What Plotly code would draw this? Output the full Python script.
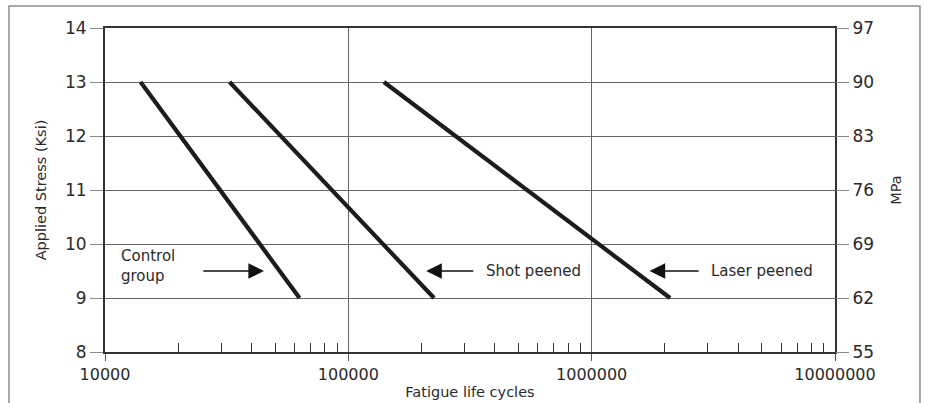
import math
import plotly.graph_objects as go

# ---- data ----
stress_ksi = [13, 9]
cycles_control = [14000, 63000]
cycles_shot = [32500, 225000]
cycles_laser = [140000, 2100000]

y_ticks_ksi = [8, 9, 10, 11, 12, 13, 14]
y_ticks_mpa = ["55", "62", "69", "76", "83", "90", "97"]
x_ticks = [10000, 100000, 1000000, 10000000]
x_tick_labels = ["10000", "100000", "1000000", "10000000"]
minor_ticks = [m * 10 ** d for d in (4, 5, 6) for m in range(2, 10)]

FONT = "DejaVu Sans"
TXT = "#2a2a2a"
LINE = "#1c1c1c"

fig = go.Figure()
for xs in (cycles_control, cycles_shot, cycles_laser):
    fig.add_trace(go.Scatter(x=xs, y=stress_ksi, mode="lines",
                             line=dict(color=LINE, width=4.2),
                             showlegend=False, hoverinfo="skip"))
# invisible helpers to materialise overlay axes
fig.add_trace(go.Scatter(x=cycles_control, y=stress_ksi, xaxis="x2", yaxis="y",
                         mode="lines", line=dict(width=0), opacity=0,
                         showlegend=False, hoverinfo="skip"))
fig.add_trace(go.Scatter(x=cycles_control, y=stress_ksi, xaxis="x", yaxis="y2",
                         mode="lines", line=dict(width=0), opacity=0,
                         showlegend=False, hoverinfo="skip"))

xr = [4, 7]
yr = [8, 14]
fig.update_layout(
    width=925, height=403,
    margin=dict(l=105, r=90, t=28, b=51),
    paper_bgcolor="white", plot_bgcolor="white",
    font=dict(family=FONT, color=TXT),
    xaxis=dict(type="log", range=xr, tickvals=x_ticks, ticktext=x_tick_labels,
               ticks="outside", ticklen=7, tickcolor="#555", tickwidth=1.3,
               tickfont=dict(size=16, color=TXT),
               showgrid=True, gridcolor="#666", gridwidth=1.4,
               showline=True, linecolor="#333", linewidth=2, mirror=True,
               zeroline=False, automargin=False,
               title=dict(text="Fatigue life cycles", font=dict(size=14.5, color=TXT),
                          standoff=4)),
    xaxis2=dict(type="log", range=xr, overlaying="x", anchor="y", side="bottom",
                tickvals=minor_ticks, ticks="inside", ticklen=9,
                tickcolor="#333", tickwidth=1.2, showticklabels=False,
                showgrid=False, showline=False, zeroline=False),
    yaxis=dict(range=yr, tickvals=y_ticks_ksi, ticks="outside", ticklen=13,
               tickcolor="#8a8a8a", tickwidth=1.3,
               tickfont=dict(size=17, color=TXT),
               showgrid=True, gridcolor="#666", gridwidth=1.4,
               showline=True, linecolor="#333", linewidth=2, mirror=True,
               zeroline=False, automargin=False,
               title=dict(text="Applied Stress (Ksi)", font=dict(size=14.5, color=TXT),
                          standoff=15)),
    yaxis2=dict(range=yr, overlaying="y", side="right", anchor="x",
                tickvals=y_ticks_ksi, ticktext=y_ticks_mpa,
                ticks="outside", ticklen=13, tickcolor="#8a8a8a", tickwidth=1.3,
                tickfont=dict(size=17, color=TXT), showgrid=False,
                showline=False, zeroline=False, automargin=False,
                title=dict(text="MPa", font=dict(size=14.5, color=TXT), standoff=17)),
)

# outer frame (left, top, right edges)
fig.add_shape(type="path", xref="paper", yref="paper",
              path="M -0.1315 -0.25 L -0.1315 1.068 L 1.1164 1.068 L 1.1164 -0.25",
              line=dict(color="#8c8c8c", width=1.5))

L = math.log10
arrow = dict(xref="x", yref="y", axref="x", ayref="y", showarrow=True,
             arrowhead=2, arrowsize=2.4, arrowwidth=1.3, arrowcolor="#111", text="")
fig.add_annotation(x=L(45000), y=9.5, ax=L(25000), ay=9.5, **arrow)
fig.add_annotation(x=L(209000), y=9.5, ax=L(331000), ay=9.5, **arrow)
fig.add_annotation(x=L(1730000), y=9.5, ax=L(2790000), ay=9.5, **arrow)

lab = dict(xref="x", yref="y", showarrow=False, xanchor="left",
           font=dict(size=15, color=TXT), align="left")
fig.add_annotation(x=L(11400), y=9.6, text="Control<br>group", **lab)
fig.add_annotation(x=L(360000), y=9.5, text="Shot peened", **lab)
fig.add_annotation(x=L(3040000), y=9.5, text="Laser peened", **lab)

fig.write_html("out.html", config={"displayModeBar": False},
               post_script="document.body.style.margin='0px';")
